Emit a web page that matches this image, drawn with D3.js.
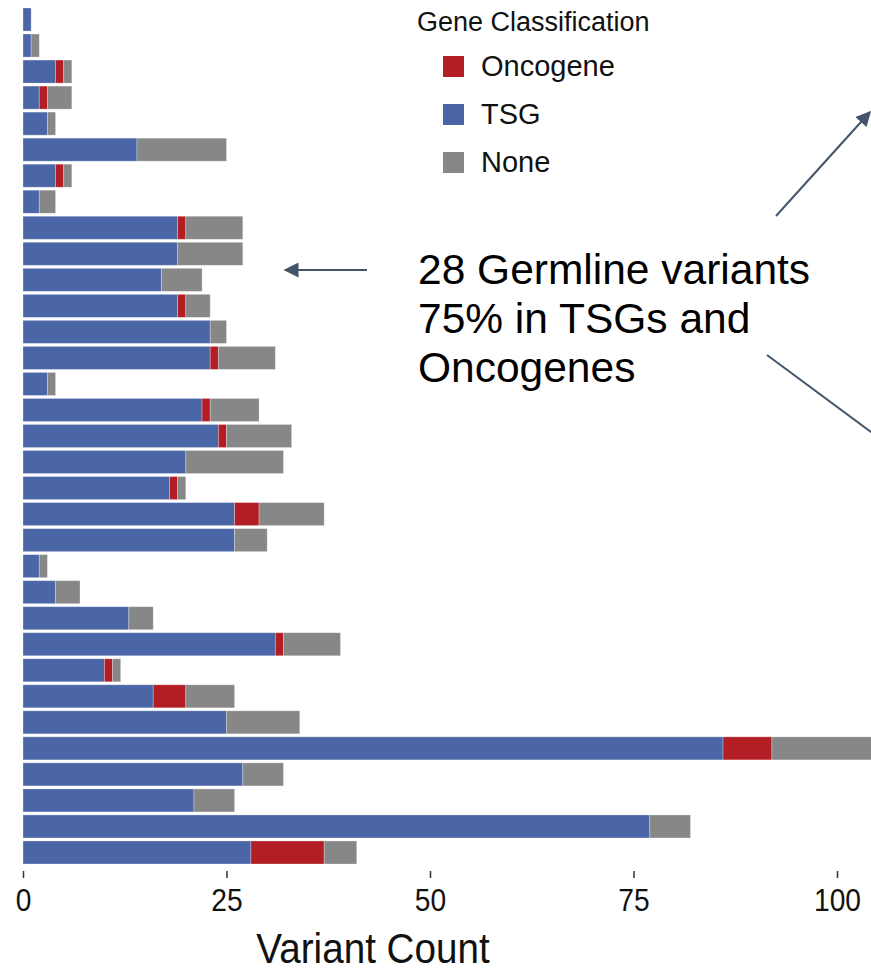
<!DOCTYPE html>
<html>
<head>
<meta charset="utf-8">
<script src="https://cdn.jsdelivr.net/npm/d3@7"></script>
<style>
  html, body { margin: 0; padding: 0; background: #fff; }
  svg { display: block; }
</style>
</head>
<body>
<svg id="chart" width="871" height="973"></svg>
<script>
// One row per sample, top to bottom
const samples = d3.range(1, 34).map(i => "S" + i);
// Variant counts per gene class
const tsgCounts  = [1, 1, 4, 2, 3, 14, 4, 2, 19, 19, 17, 19, 23, 23, 3, 22, 24, 20, 18, 26, 26, 2, 4, 13, 31, 10, 16, 25, 86, 27, 21, 77, 28];
const oncCounts  = [0, 0, 1, 1, 0, 0, 1, 0, 1, 0, 0, 1, 0, 1, 0, 1, 1, 0, 1, 3, 0, 0, 0, 0, 1, 1, 4, 0, 6, 0, 0, 0, 9];
const noneCounts = [0, 1, 1, 3, 1, 11, 1, 2, 7, 8, 5, 3, 2, 7, 1, 6, 8, 12, 1, 8, 4, 1, 3, 3, 7, 1, 6, 9, 16, 5, 5, 5, 4];
// Axis ticks
const xTicks = [0, 25, 50, 75, 100];
// Legend
const classes = ["Oncogene", "TSG", "None"];
const classColors = { Oncogene: "#b21e24", TSG: "#4a66a6", None: "#878787" };
// Annotation lines
const noteLines = ["28 Germline variants", "75% in TSGs and", "Oncogenes"];

const rows = samples.map((s, i) => ({ sample: s, TSG: tsgCounts[i], Oncogene: oncCounts[i], None: noneCounts[i] }));
// stack order along the bar: TSG, then Oncogene, then None
const stack = d3.stack().keys(["TSG", "Oncogene", "None"])(rows);

const svg = d3.select("#chart");
const x = d3.scaleLinear().domain([0, 100]).range([23, 837]);
const y = d3.scaleBand().domain(samples).range([5, 867]).padding(0.115);

const bars = svg.append("g");
bars.selectAll("g.layer")
  .data(stack)
  .join("g")
  .attr("class", "layer")
  .attr("fill", d => classColors[d.key])
  .selectAll("rect")
  .data(d => d.filter(p => p[1] > p[0]))
  .join("rect")
  .attr("x", d => x(d[0]))
  .attr("y", d => y(d.data.sample))
  .attr("width", d => x(d[1]) - x(d[0]))
  .attr("height", y.bandwidth())
  .attr("stroke", "#ffffff")
  .attr("stroke-opacity", 0.35)
  .attr("stroke-width", 0.8);

// x axis: ticks only, no domain line
const axis = svg.append("g")
  .attr("transform", "translate(0,871)")
  .call(d3.axisBottom(x).tickValues(xTicks).tickSize(7).tickPadding(10).tickFormat(d3.format("d")));
axis.select(".domain").remove();
axis.selectAll(".tick line").attr("stroke", "#333").attr("stroke-width", 1.5);
axis.selectAll(".tick text")
  .attr("fill", "#111")
  .attr("font-family", "'Liberation Sans', Arial, sans-serif")
  .attr("font-size", 32)
  .attr("transform", "scale(0.88,1)");

svg.append("text")
  .attr("transform", "translate(373,963) scale(0.92,1)")
  .attr("text-anchor", "middle")
  .attr("font-family", "'Liberation Sans', Arial, sans-serif")
  .attr("font-size", 42)
  .attr("fill", "#111")
  .text("Variant Count");

// legend
const legend = svg.append("g");
legend.append("text")
  .attr("x", 417).attr("y", 31)
  .attr("font-family", "'Liberation Sans', Arial, sans-serif")
  .attr("font-size", 27)
  .attr("fill", "#111")
  .text("Gene Classification");
const items = legend.selectAll("g.item").data(classes).join("g")
  .attr("class", "item")
  .attr("transform", (d, i) => `translate(443,${56 + i * 48})`);
items.append("rect").attr("width", 21).attr("height", 21).attr("fill", d => classColors[d]);
items.append("text")
  .attr("x", 38).attr("y", 20)
  .attr("font-family", "'Liberation Sans', Arial, sans-serif")
  .attr("font-size", 29)
  .attr("fill", "#111")
  .text(d => d);

// annotation
svg.append("text")
  .attr("font-family", "'Liberation Sans', Arial, sans-serif")
  .attr("font-size", 42.5)
  .attr("fill", "#000")
  .selectAll("tspan")
  .data(noteLines)
  .join("tspan")
  .attr("x", 418)
  .attr("y", (d, i) => 284 + i * 49)
  .text(d => d);

const arrowColor = "#44546a";
svg.append("defs").append("marker")
  .attr("id", "head")
  .attr("viewBox", "0 0 10 10")
  .attr("refX", 9).attr("refY", 5)
  .attr("markerWidth", 8).attr("markerHeight", 7.5)
  .attr("markerUnits", "strokeWidth")
  .attr("orient", "auto")
  .append("path").attr("d", "M0,0 L10,5 L0,10 Z").attr("fill", arrowColor);

const arrows = [
  [367, 270, 285, 270],
  [776, 216, 870, 112],
  [767, 355, 886, 443]
];
svg.append("g").selectAll("line").data(arrows).join("line")
  .attr("x1", d => d[0]).attr("y1", d => d[1])
  .attr("x2", d => d[2]).attr("y2", d => d[3])
  .attr("stroke", arrowColor)
  .attr("stroke-width", 2)
  .attr("marker-end", "url(#head)");
</script>
</body>
</html>
